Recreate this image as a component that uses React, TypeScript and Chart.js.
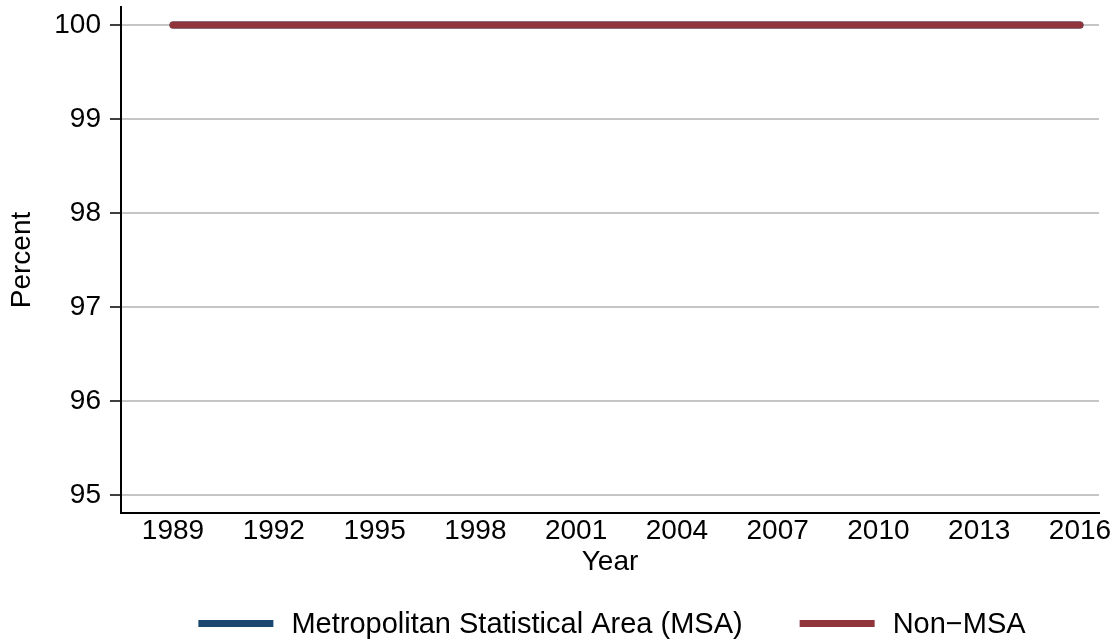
import React, { useEffect, useRef } from 'react';
import { Chart, registerables } from 'chart.js';

Chart.register(...registerables);

// ---- data ----
const years = [1989, 1992, 1995, 1998, 2001, 2004, 2007, 2010, 2013, 2016];
const msaValues = [100, 100, 100, 100, 100, 100, 100, 100, 100, 100];
const nonMsaValues = [100, 100, 100, 100, 100, 100, 100, 100, 100, 100];
const seriesLabels = ['Metropolitan Statistical Area (MSA)', 'Non\u2212MSA'];
const seriesColors = ['#1a476f', '#90353b'];
const yTickValues = [95, 96, 97, 98, 99, 100];
const xTickValues = [1989, 1992, 1995, 1998, 2001, 2004, 2007, 2010, 2013, 2016];
const xTitle = 'Year';
const yTitle = 'Percent';

const FONT = '"Liberation Sans", Arial, Helvetica, sans-serif';

const bottomLegend = {
  id: 'bottomLegend',
  afterDraw(chart: any) {
    const ctx = chart.ctx as CanvasRenderingContext2D;
    ctx.save();
    ctx.font = `29px ${FONT}`;
    const boxW = 75;
    const boxH = 7;
    const textGap = 18;
    const itemGap = 57;
    const items = chart.data.datasets.map((ds: any) => ({
      label: ds.label as string,
      color: ds.borderColor as string,
      w: ctx.measureText(ds.label).width,
    }));
    const total =
      items.reduce((s: number, it: any) => s + boxW + textGap + it.w, 0) +
      itemGap * (items.length - 1);
    let x = (chart.chartArea.left + chart.chartArea.right) / 2 - total / 2 + 2;
    const y = 623.5;
    ctx.textBaseline = 'middle';
    ctx.textAlign = 'left';
    for (const it of items) {
      ctx.fillStyle = it.color;
      ctx.fillRect(x, y - boxH / 2, boxW, boxH);
      x += boxW + textGap;
      ctx.fillStyle = '#000';
      ctx.fillText(it.label, x, y + 1);
      x += it.w + itemGap;
    }
    ctx.restore();
  },
};

export default function App() {
  const canvasRef = useRef<HTMLCanvasElement | null>(null);

  useEffect(() => {
    if (!canvasRef.current) return;
    const chart = new Chart(canvasRef.current, {
      type: 'line',
      data: {
        datasets: [
          {
            label: seriesLabels[0],
            data: years.map((yr, i) => ({ x: yr, y: msaValues[i] })),
            borderColor: seriesColors[0],
            backgroundColor: seriesColors[0],
            borderWidth: 7,
            borderCapStyle: 'round',
            borderJoinStyle: 'round',
            pointRadius: 0,
            tension: 0,
            order: 1,
          },
          {
            label: seriesLabels[1],
            data: years.map((yr, i) => ({ x: yr, y: nonMsaValues[i] })),
            borderColor: seriesColors[1],
            backgroundColor: seriesColors[1],
            borderWidth: 7,
            borderCapStyle: 'round',
            borderJoinStyle: 'round',
            pointRadius: 0,
            tension: 0,
            order: 0,
          },
        ],
      },
      options: {
        animation: false,
        responsive: false,
        maintainAspectRatio: false,
        layout: { padding: { top: 7, right: 20, bottom: 60, left: 0 } },
        plugins: {
          legend: { display: false },
          tooltip: { enabled: false },
        },
        scales: {
          x: {
            type: 'linear',
            position: 'bottom',
            min: 1987.452,
            max: 2016.566,
            afterBuildTicks: (scale: any) => {
              scale.ticks = xTickValues.map((v) => ({ value: v }));
            },
            afterFit: (scale: any) => {
              scale.height = 70;
              scale.paddingLeft = 0;
              scale.paddingRight = 0;
            },
            grid: { display: true, drawOnChartArea: false, drawTicks: false },
            border: { display: true, color: '#000', width: 2 },
            ticks: {
              padding: 1,
              color: '#000',
              font: { family: FONT, size: 28 },
              maxRotation: 0,
              autoSkip: false,
              callback: (v: any) => String(v),
            },
            title: {
              display: true,
              text: xTitle,
              color: '#000',
              font: { family: FONT, size: 28 },
              padding: { top: 0, bottom: 4 },
            },
          },
          y: {
            type: 'linear',
            min: 94.809,
            max: 100.191,
            afterBuildTicks: (scale: any) => {
              scale.ticks = yTickValues.map((v) => ({ value: v }));
            },
            afterFit: (scale: any) => {
              scale.width = 121;
              scale.paddingTop = 0;
              scale.paddingBottom = 0;
            },
            grid: {
              color: '#c6c6c6',
              lineWidth: 2,
              tickColor: '#000',
              tickLength: 11,
              tickWidth: 1.5,
            },
            border: { display: true, color: '#000', width: 2 },
            ticks: {
              padding: 9,
              color: '#000',
              font: { family: FONT, size: 28 },
              autoSkip: false,
              callback: (v: any) => String(v),
            },
            title: {
              display: true,
              text: yTitle,
              color: '#000',
              font: { family: FONT, size: 28 },
              padding: { top: 5, bottom: 0 },
            },
          },
        },
      },
      plugins: [bottomLegend],
    } as any);
    return () => chart.destroy();
  }, []);

  return (
    <div style={{ position: 'absolute', left: 0, top: 0, width: 1119, height: 643, background: '#fff' }}>
      <canvas ref={canvasRef} width={1119} height={643} style={{ display: 'block' }} />
    </div>
  );
}
